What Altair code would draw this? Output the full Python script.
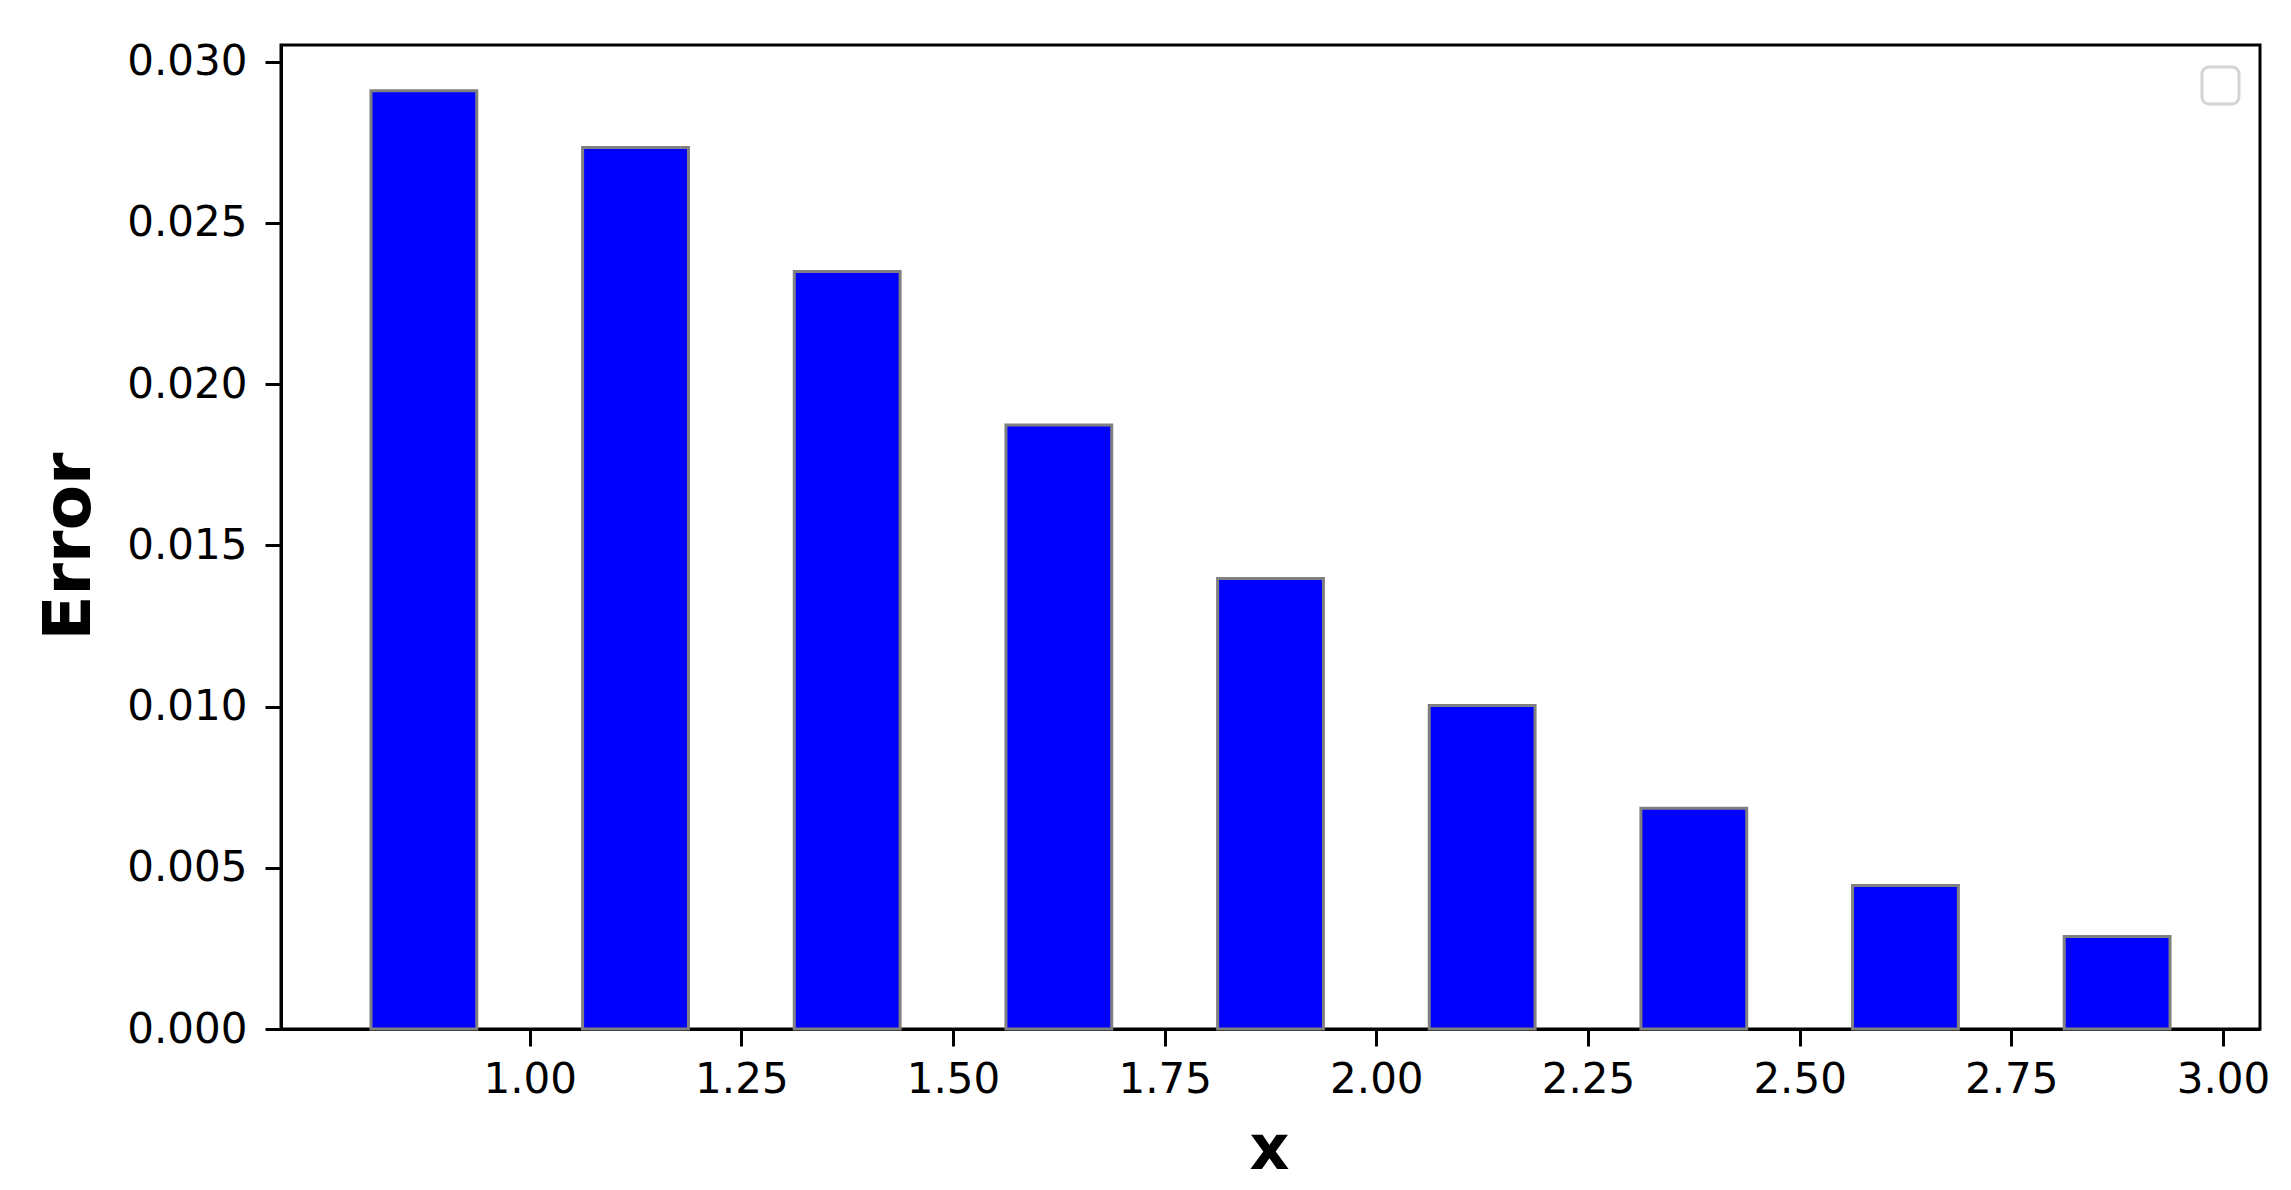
import altair as alt
import pandas as pd

x_centers = [0.875, 1.125, 1.375, 1.625, 1.875, 2.125, 2.375, 2.625, 2.875]
errors = [0.02910, 0.02734, 0.02349, 0.01873, 0.01397, 0.01003, 0.00685, 0.00445, 0.00287]
bar_width = 0.125
x_ticks = [1.00, 1.25, 1.50, 1.75, 2.00, 2.25, 2.50, 2.75, 3.00]
y_ticks = [0.000, 0.005, 0.010, 0.015, 0.020, 0.025, 0.030]

df = pd.DataFrame({"x": x_centers, "Error": errors})

W, H = 1979, 984
FONT = "DejaVu Sans"

bars = alt.Chart(df).mark_bar(
    color="#0000ff", stroke="#808080", strokeWidth=3, opacity=1
).transform_calculate(
    x0=f"datum.x - {bar_width / 2}", x1=f"datum.x + {bar_width / 2}", base="0"
).encode(
    x=alt.X("x0:Q", scale=alt.Scale(domain=[0.70625, 3.04375], nice=False, zero=False),
            axis=alt.Axis(values=x_ticks, format=".2f", title="x",
                          titleX=988, titleY=120, titleAlign="center",
                          titleBaseline="middle", tickSize=17, labelPadding=13,
                          labelFlush=False, titleFontSize=62)),
    x2="x1:Q",
    y=alt.Y("Error:Q", scale=alt.Scale(domain=[0, 0.030518], nice=False),
            axis=alt.Axis(values=y_ticks, format=".3f", title="Error",
                          titleX=-212, titleY=501, titleAngle=270,
                          titleAlign="center", titleBaseline="middle",
                          tickSize=16, labelPadding=18, labelFlush=False)),
    y2="base:Q",
)

legend_box = alt.Chart(pd.DataFrame({"a": [0]})).mark_rect(
    fill="white", stroke="#d4d4d4", strokeWidth=3, cornerRadius=7
).encode(
    x=alt.value(1921), x2=alt.value(1958), y=alt.value(22), y2=alt.value(59)
)

chart = alt.layer(bars, legend_box).properties(
    width=W, height=H,
    autosize=alt.AutoSizeParams(type="none"),
    padding={"left": 273, "top": 37, "right": 23, "bottom": 153},
    background="white",
).configure_view(
    stroke="black", strokeWidth=3
).configure_axis(
    grid=False,
    domainColor="black", domainWidth=3,
    tickColor="black", tickWidth=3,
    labelFont=FONT, labelFontSize=42, labelColor="black",
    titleFont=FONT, titleFontSize=66, titleFontWeight="bold", titleColor="black",
)

chart.save("out.html", embed_options={"renderer": "svg", "actions": False})
